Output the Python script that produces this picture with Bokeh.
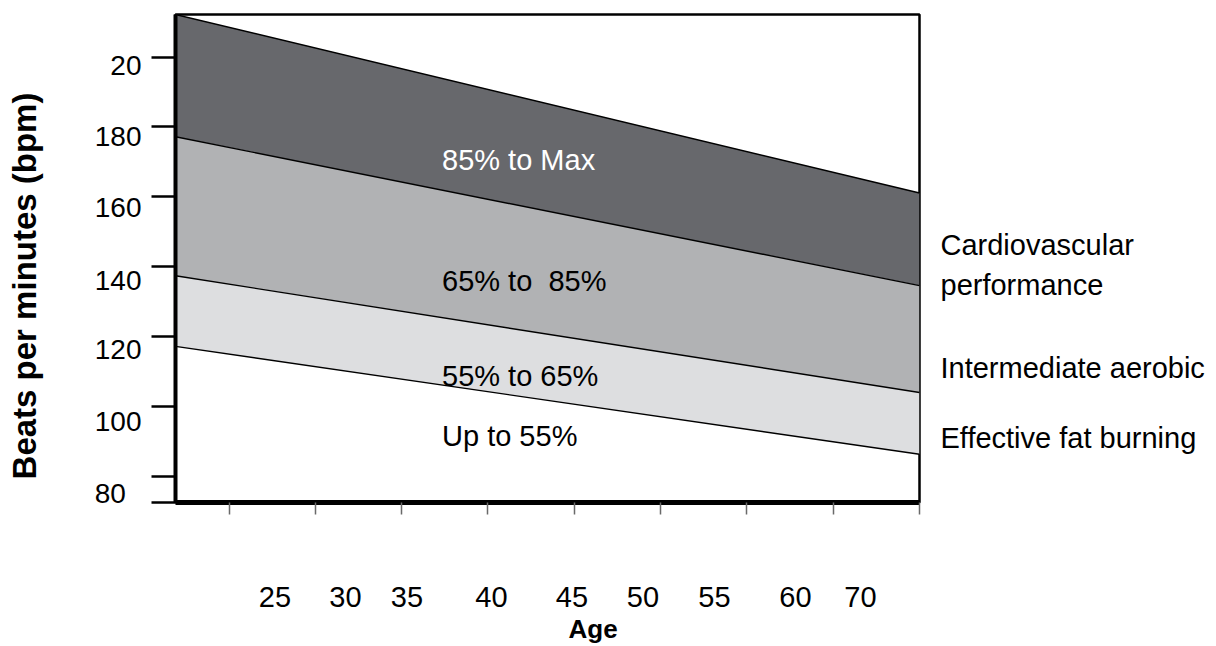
from bokeh.plotting import figure
from bokeh.models import FixedTicker, Range1d, LinearAxis, CustomJSTickFormatter, Title
from bokeh.core.properties import value
from bokeh.embed import file_html
from bokeh.resources import INLINE

# ---------------- data ----------------
age_ends = [21.9, 65.0]            # band end points (age axis)
max_hr = [212.2, 161.1]            # maximum heart rate
hr85 = [177.2, 134.6]              # 85 % line
hr65 = [137.4, 104.0]              # 65 % line
hr55 = [117.2, 86.3]               # 55 % line

age_ticks = [25, 30, 35, 40, 45, 50, 55, 60, 65]
age_tick_labels = ["25", "30", "35", "40", "45", "50", "55", "60", "70"]
bpm_ticks = [200, 180, 160, 140, 120, 100, 80]
bpm_tick_labels = ["20", "180", "160", "140", "120", "100", "80\u2007"]

zone_labels = ["85% to Max", "65% to\u00a0 85%", "55% to 65%", "Up to 55%"]
side_labels = ["Cardiovascular", "performance", "Intermediate aerobic", "Effective fat burning"]
y_title = "Beats per minutes (bpm)"
x_title = "Age"

# ---------------- layout helpers (canvas pixels -> data) ----------------
W, H = 1216, 646
X0, X1 = age_ends[0], age_ends[1]
Y0, Y1 = 72.5, max_hr[0]
PX0, PX1 = 175.0, 919.0
PY0, PY1 = 14.0, 503.0


def xd(px):
    return round(X0 + (px - PX0) * (X1 - X0) / (PX1 - PX0), 4)


def yd(py):
    return round(Y1 - (py - PY0) * (Y1 - Y0) / (PY1 - PY0), 4)


def label_formatter(positions, labels):
    return CustomJSTickFormatter(args=dict(pos=positions, labs=labels), code="""
        let best = 0, bd = 1e9;
        for (let i = 0; i < pos.length; i++) {
            const d = Math.abs(pos[i] - tick);
            if (d < bd) { bd = d; best = i; }
        }
        return labs[best];
    """)


EMPTY = CustomJSTickFormatter(code="return '';")
FONT = "Liberation Sans"
DARK, MID, LIGHT = "#67686c", "#b1b2b4", "#dddee0"

p = figure(width=W, height=H,
           x_range=Range1d(X0, X1), y_range=Range1d(Y0, Y1),
           output_backend="svg", toolbar_location=None,
           min_border_left=int(PX0), min_border_right=int(W - PX1),
           min_border_top=int(PY0), min_border_bottom=int(H - PY1))
p.xgrid.visible = False
p.ygrid.visible = False
p.outline_line_color = "black"
p.outline_line_width = 2.5
p.background_fill_color = "white"
p.border_fill_color = "white"

# bands
p.varea(x=age_ends, y1=hr85, y2=max_hr, fill_color=DARK)
p.varea(x=age_ends, y1=hr65, y2=hr85, fill_color=MID)
p.varea(x=age_ends, y1=hr55, y2=hr65, fill_color=LIGHT)
for ys in (max_hr, hr85, hr65, hr55):
    p.line(age_ends, ys, line_color="black", line_width=1.4)

# zone labels inside the plot
zone_baseline = [160.0, 281.0, 376.0, 436.0]
zone_color = ["white", "black", "black", "black"]
p.text(x=[xd(441.5)] * 4, y=[yd(b) for b in zone_baseline], text=zone_labels,
       text_color=zone_color, text_font=value(FONT),
       text_font_size="29px", text_align="left", text_baseline="alphabetic")

# ---- inner axes: lines and tick marks ----
xa = p.xaxis[0]
xa.ticker = FixedTicker(ticks=age_ticks)
xa.formatter = EMPTY
xa.axis_line_width = 5
xa.axis_line_color = "black"
xa.major_tick_out = 12
xa.major_tick_in = 0
xa.major_tick_line_width = 1.5
xa.major_tick_line_color = "#6a6a6a"
xa.minor_tick_line_color = None
xa.major_label_standoff = 0

ya = p.yaxis[0]
ya.ticker = FixedTicker(ticks=bpm_ticks + [Y0 + 0.1])
ya.formatter = EMPTY
ya.axis_line_width = 4
ya.axis_line_color = "black"
ya.major_tick_out = 24
ya.major_tick_in = 0
ya.major_tick_line_width = 2.5
ya.major_tick_line_color = "black"
ya.minor_tick_line_color = None
ya.major_label_standoff = 0


def text_axis(positions, labels, size, standoff):
    ax = LinearAxis(ticker=FixedTicker(ticks=positions),
                    formatter=label_formatter(positions, labels))
    ax.axis_line_color = None
    ax.major_tick_line_color = None
    ax.minor_tick_line_color = None
    ax.major_tick_out = 0
    ax.major_tick_in = 0
    ax.major_label_standoff = standoff
    ax.major_label_text_font = FONT
    ax.major_label_text_font_size = size
    ax.major_label_text_color = "black"
    return ax


# y tick labels (centres placed a little below their ticks, as drawn)
ytl_baseline = [73.3, 144.0, 215.7, 288.3, 357.5, 430.0, 501.7]
ytl_pos = [yd(b - 8.0) for b in ytl_baseline]
ylab = text_axis(ytl_pos, bpm_tick_labels, "28px", 10)
p.add_layout(ylab, "left")

# y axis title on a bare axis; trailing no-break spaces move it lower,
# where the original draws it
ytitle = LinearAxis(ticker=FixedTicker(ticks=[]), formatter=EMPTY)
ytitle.axis_line_color = None
ytitle.major_tick_line_color = None
ytitle.minor_tick_line_color = None
ytitle.major_tick_out = 0
ytitle.major_tick_in = 0
ytitle.major_label_standoff = 0
ytitle.axis_label = y_title + "\u00a0" * 6
ytitle.axis_label_text_font = FONT
ytitle.axis_label_text_font_size = "33px"
ytitle.axis_label_text_font_style = "bold"
ytitle.axis_label_text_color = "black"
ytitle.axis_label_standoff = 49
p.add_layout(ytitle, "left")

# x tick labels
xtl_center = [274.5, 345.0, 406.5, 491.0, 571.5, 642.5, 714.0, 795.0, 860.0]
xtl_pos = [xd(c) for c in xtl_center]
xlab = text_axis(xtl_pos, age_tick_labels, "29px", 72)
p.add_layout(xlab, "below")

p.add_layout(Title(text=x_title, align="left", offset=393, standoff=5,
                   text_font=FONT, text_font_size="26px",
                   text_font_style="bold", text_color="black"), "below")

# zone descriptions on the right
side_baseline = [255.0, 294.5, 378.3, 448.3]
side_pos = [yd(b - 9.8) for b in side_baseline]
rlab = text_axis(side_pos, side_labels, "29px", 21)
p.add_layout(rlab, "right")

open("out.html", "w").write(file_html(p, INLINE))
